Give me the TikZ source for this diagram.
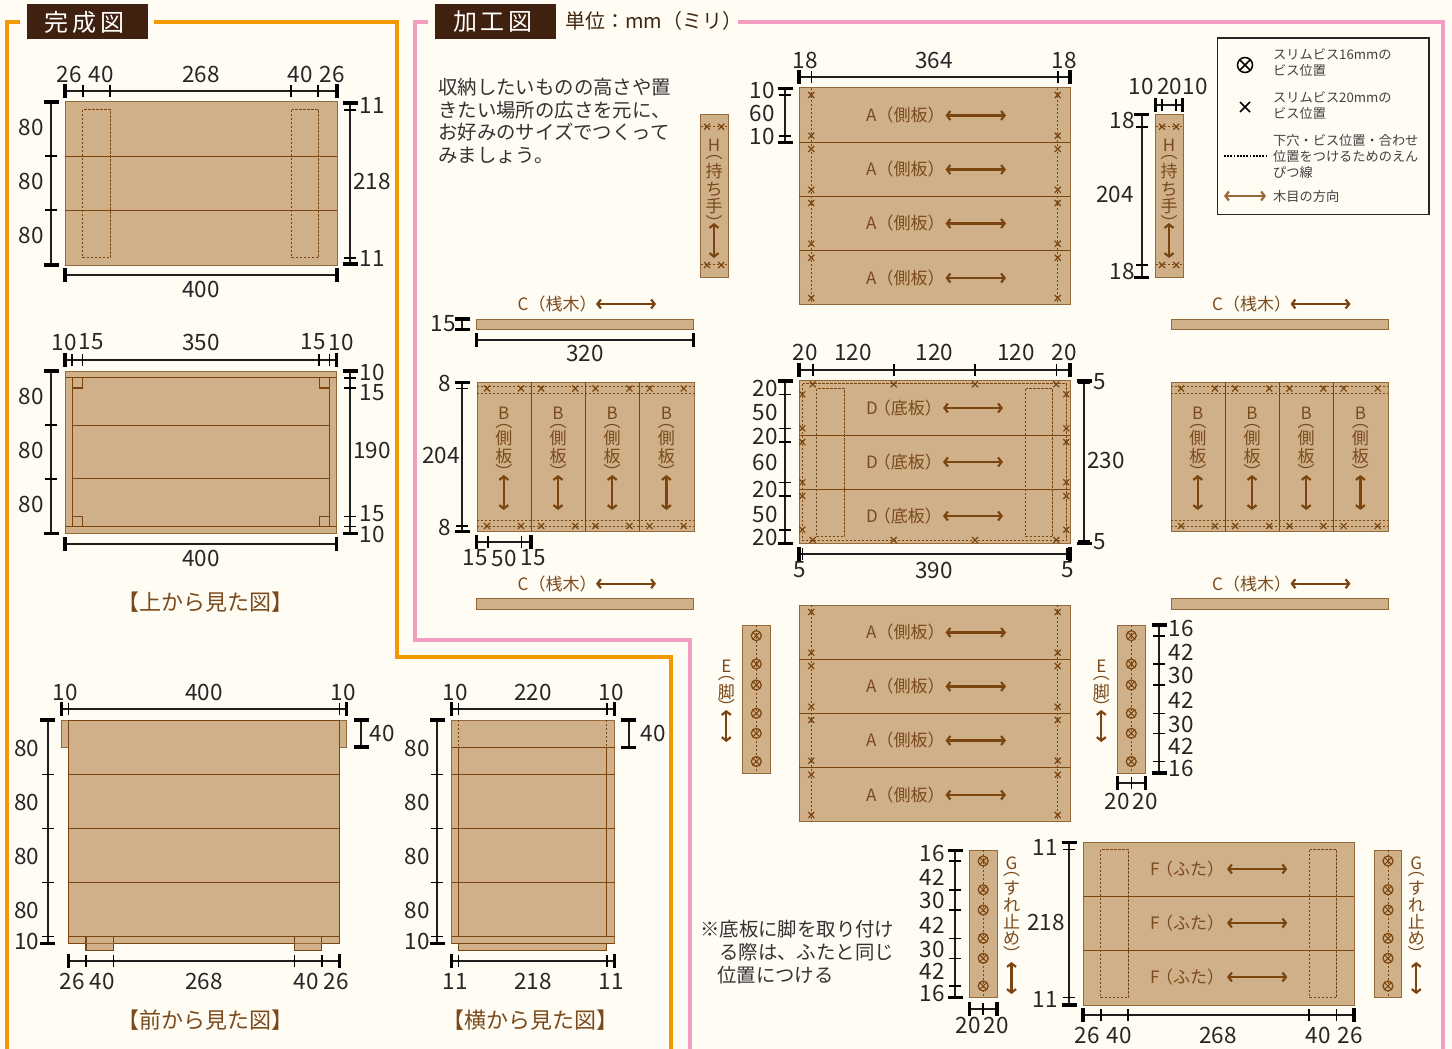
\documentclass[tikz,border=0pt]{standalone}
\usepackage{fontspec}
\setmainfont{Noto Sans CJK JP}
\usetikzlibrary{arrows.meta}

\definecolor{paper}{HTML}{FFFCF4}
\definecolor{wood}{HTML}{CFB088}
\definecolor{woodline}{HTML}{7B4510}
\definecolor{woodedge}{HTML}{96693A}
\definecolor{woodtext}{HTML}{7A4A1C}
\definecolor{framea}{HTML}{F39800}
\definecolor{frameb}{HTML}{F29CC0}
\definecolor{titlebox}{HTML}{40210F}

\tikzset{
  board/.style={fill=wood,draw=woodedge,line width=1pt},
  seam/.style={draw=woodline,line width=1.1pt},
  pencil/.style={draw=woodline,line width=1pt,dash pattern=on 2.2pt off 1.8pt},
  frameline/.style={line width=4pt},
  dimline/.style={draw=black!88,line width=2pt},
  dimend/.style={draw=black,line width=3.2pt},
  dimtick/.style={draw=black,line width=1.6pt},
  dimtext/.style={font=\fontsize{22.5}{23}\selectfont,text=black!85,inner sep=0pt},
  woodlabel/.style={font=\fontsize{17}{18}\selectfont,text=woodtext,inner sep=0pt},
  caption/.style={font=\fontsize{22}{23}\selectfont,text=woodtext,inner sep=0pt},
  bodytext/.style={font=\fontsize{19.4}{22.7}\selectfont,text=black!80,inner sep=0pt,align=left},
  legendtext/.style={font=\fontsize{13.2}{16}\selectfont,text=black!75,inner sep=0pt,align=left,anchor=west},
  titletext/.style={font=\fontsize{24}{26}\selectfont,text=white,inner sep=0pt},
  grain/.style={draw=woodline,line width=2.2pt,{Straight Barb[length=3.5pt,width=9pt]}-{Straight Barb[length=3.5pt,width=9pt]}},
  screw/.style={draw=woodline,line width=1.2pt},
}

% full-width brackets and colon
\newcommand{\zl}{\symbol{"FF08}}
\newcommand{\zr}{\symbol{"FF09}}
\newcommand{\zc}{\symbol{"FF1A}}

% dimension lines: position, start, end, inner ticks
\newcommand{\dimh}[4]{%
  \draw[dimline] (#2,#1) -- (#3,#1);
  \foreach \tx in {#2,#3} \draw[dimend] (\tx,#1-7) -- (\tx,#1+7);
  \foreach \tx in {#4} \draw[dimtick] (\tx,#1-6) -- (\tx,#1+6);
}
\newcommand{\dimv}[4]{%
  \draw[dimline] (#1,#2) -- (#1,#3);
  \foreach \ty in {#2,#3} \draw[dimend] (#1-7.5,\ty) -- (#1+7.5,\ty);
  \foreach \ty in {#4} \draw[dimtick] (#1-6,\ty) -- (#1+6,\ty);
}
\newcommand{\dimlabels}[1]{%
  \foreach \txt/\lx/\ly in {#1} \node[dimtext] at (\lx,\ly) {\txt};
}
\newcommand{\stacklabels}[2]{%
  \foreach \txt/\ly in {#2} \node[woodlabel] at (#1,\ly) {\txt};
}
\newcommand{\crossmark}[3][screw]{%
  \draw[#1] (#2-3,#3-3) -- (#2+3,#3+3) (#2-3,#3+3) -- (#2+3,#3-3);
}
\newcommand{\screwmark}[2]{%
  \draw[screw] (#1,#2) circle [radius=5];
  \draw[screw,line width=1pt] (#1-3.5,#2-3.5) -- (#1+3.5,#2+3.5) (#1-3.5,#2+3.5) -- (#1+3.5,#2-3.5);
}

\begin{document}
\begin{tikzpicture}[x=1pt,y=-1pt]
    \useasboundingbox (0,0) rectangle (1452,1049);
    \fill[paper] (0,0) rectangle (1452,1049);

    % Frames
    \draw[frameline,framea] (7,1049) -- (7,22) -- (20,22);
    \draw[frameline,framea] (154,22) -- (397,22) -- (397,657) -- (671,657) -- (671,1049);
    \draw[frameline,frameb] (690,1049) -- (690,640) -- (415,640) -- (415,22) -- (428,22);
    \draw[frameline,frameb] (738,22) -- (1443,22) -- (1443,1049);

    % Titles
    \fill[titlebox] (27,4) rectangle (148,39);
    \node[titletext] at (85,22) {完\,成\,図};
    \fill[titlebox] (435,4) rectangle (556,39);
    \node[titletext] at (493,22) {加\,工\,図};
    \node[font=\fontsize{20}{22}\selectfont,text=black!25!woodtext!70!black,inner sep=0pt,anchor=west] at (565,21) {単位\zc mm\zl ミリ\zr};

    % Top view, finished
    \draw[board] (65,102) rectangle (337,265);
    \draw[seam] (65,156.5) -- (337,156.5) (65,210.5) -- (337,210.5);
    \draw[pencil] (82.5,109.5) rectangle (110.5,257.5);
    \draw[pencil] (291.5,109.5) rectangle (318.5,257.5);
    \dimh{91}{65}{337}{83,110,291,318}
    \dimlabels{26/69/74,40/101/74,268/201/74,40/300/74,26/332/74}
    \dimv{51}{102}{265}{156,210}
    \dimlabels{80/31/127,80/31/181,80/31/235}
    \dimv{350}{103}{264}{110,258}
    \dimlabels{11/372/105,218/372/181,11/372/258}
    \dimh{275}{65}{337}{}
    \dimlabels{400/201/289}

    % Top view, open
    \draw[board] (65,371) rectangle (336.5,533.5);
    \draw[seam] (65,377.5) -- (336.5,377.5) (65,526.5) -- (336.5,526.5);
    \draw[seam] (72.5,377.5) -- (72.5,526.5) (329.5,377.5) -- (329.5,526.5);
    \draw[seam] (72.5,425.5) -- (329.5,425.5) (72.5,478.5) -- (329.5,478.5);
    \draw[seam] (72.5,388) -| (82.5,377.5) (72.5,516.5) -| (82.5,526.5);
    \draw[seam] (329.5,388) -| (319.5,377.5) (329.5,516.5) -| (319.5,526.5);
    \dimh{360}{65}{336.5}{72,82.5,319,329.5}
    \dimlabels{10/64/342,15/91/342,350/201/342,15/313/342,10/341/342}
    \dimv{51}{371}{533.5}{425,479}
    \dimlabels{80/31/396,80/31/450,80/31/504}
    \dimv{350}{371}{533.5}{378,388,516.5,526.5}
    \dimlabels{10/372/372,15/372/393,190/372/450,15/372/514,10/372/534}
    \dimh{544}{65}{336.5}{}
    \dimlabels{400/201/558}
    \node[caption] at (205,602) {【上から見た図】};

    % Front view
    \draw[board] (61.5,720) rectangle (68.5,747);
    \draw[board] (339.5,720) rectangle (346.5,747);
    \draw[board,draw=woodline] (68.5,720) rectangle (339.5,943.5);
    \draw[seam] (68.5,774.5) -- (339.5,774.5) (68.5,828.5) -- (339.5,828.5);
    \draw[seam] (68.5,882.5) -- (339.5,882.5) (68.5,936.5) -- (339.5,936.5);
    \draw[seam] (86,936.5) |- (113.5,950.5) -- (113.5,936.5);
    \draw[seam] (294.5,936.5) |- (321.5,950.5) -- (321.5,936.5);
    \fill[wood] (86.5,944) rectangle (113,950);
    \fill[wood] (295,944) rectangle (321,950);
    \draw[seam,woodedge] (86,943.5) -- (113.5,943.5) (294.5,943.5) -- (321.5,943.5);
    \dimh{709}{61.5}{346.5}{68.5,339.5}
    \dimlabels{10/65/692,400/204/692,10/343/692}
    \dimv{47.5}{720}{943.5}{774.3,828.3,882.3,936.3}
    \dimlabels{80/27/748,80/27/802,80/27/856,80/27/910,10/27/941}
    \dimv{361}{720}{747}{}
    \dimlabels{40/382/733}
    \dimh{961}{68.5}{339.5}{86,113.3,294.3,321.7}
    \dimlabels{26/72/981,40/102/981,268/204/981,40/306/981,26/336/981}
    \node[caption] at (205,1020) {【前から見た図】};

    % Side view
    \draw[board] (451.5,720) rectangle (614.5,943.5);
    \draw[seam] (458.5,747.5) -- (458.5,936.5) (606.5,747.5) -- (606.5,936.5);
    \draw[pencil] (458.5,720) -- (458.5,747.5) (606.5,720) -- (606.5,747.5);
    \foreach \sy in {747.5,774.5,828.5,882.5,936.5,943.5}
        \draw[seam] (451.5,\sy) -- (614.5,\sy);
    \draw[board,draw=woodline] (458.5,943.5) rectangle (606.5,950.5);
    \dimh{709}{451.7}{614.3}{458.3,607}
    \dimlabels{10/455/692,220/533/692,10/611/692}
    \dimv{437.3}{720}{943.3}{774.3,828.3,882.3,936.3}
    \dimlabels{80/417/748,80/417/802,80/417/856,80/417/910,10/417/941}
    \dimv{628.7}{720}{747.3}{}
    \dimlabels{40/653/733}
    \dimh{961}{451.7}{614.3}{458.3,607}
    \dimlabels{11/455/981,218/533/981,11/611/981}
    \node[caption] at (530,1020) {【横から見た図】};

    % Intro text
    \node[bodytext,anchor=west] at (438,121) {収納したいものの高さや置\\きたい場所の広さを元に、\\お好みのサイズでつくって\\みましょう。};

    % H, handle
    \foreach \hoff in {0,455} {
        \begin{scope}[shift={(\hoff,0)}]
            \draw[board] (700.5,114.5) rectangle (728,277.5);
            \draw[pencil] (700.5,126.5) -- (728,126.5) (700.5,264.5) -- (728,264.5);
            \foreach \mx in {707,721.2} {
                \crossmark{\mx}{126.7}
                \crossmark{\mx}{265}
            }
            \stacklabels{714}{H/145,︵/158,持/171.5,ち/189,手/206,︶/222.5}
            \draw[grain] (714,223) -- (714,258);
        \end{scope}
    }
    \dimh{105}{1155.3}{1182.7}{1162,1176}
    \dimlabels{10/1141/86,20/1169.5/86,10/1195/86}
    \dimv{1141.7}{114.3}{277.3}{126.7,265}
    \dimlabels{18/1122/120,204/1115/194,18/1122/271}

    % Legend
    \draw[draw=black!85,line width=1.6pt,fill=paper] (1217.5,38) rectangle (1429,214.3);
    \draw[black,line width=1.5pt] (1245,65) circle [radius=7.5];
    \draw[black,line width=1.5pt] (1240,60) -- (1250,70) (1240,70) -- (1250,60);
    \draw[black,line width=1.5pt] (1240,102) -- (1250,112) (1240,112) -- (1250,102);
    \draw[black,line width=1.2pt,dash pattern=on 1.8pt off 1.4pt] (1224,156) -- (1266,156);
    \draw[grain,draw=woodedge] (1224,196) -- (1266,196);
    \node[legendtext] at (1273,63) {スリムビス16mmの\\ビス位置};
    \node[legendtext] at (1273,106) {スリムビス20mmの\\ビス位置};
    \node[legendtext] at (1273,156) {下穴・ビス位置・合わせ\\位置をつけるためのえん\\ぴつ線};
    \node[legendtext] at (1273,196) {木目の方向};

    % A, side boards (two sets)
    \foreach \aoff in {0,517} {
        \begin{scope}[shift={(0,\aoff)}]
            \draw[board] (799,88) rectangle (1070,304.8);
            \draw[seam] (799,142.5) -- (1070,142.5) (799,196.5) -- (1070,196.5) (799,250.5) -- (1070,250.5);
            \draw[pencil] (811.5,88) -- (811.5,304.8) (1057.5,88) -- (1057.5,304.8);
            \foreach \ay in {95,135.7,149,189.7,203,243.7,257.7,298} {
                \crossmark{811.3}{\ay}
                \crossmark{1057.7}{\ay}
            }
            \foreach \ay in {115.5,169.5,223.5,278} {
                \node[woodlabel,anchor=west] at (866,\ay) {A\zl 側板\zr};
                \draw[grain] (945.5,\ay) -- (1006,\ay);
            }
        \end{scope}
    }
    \dimh{77}{799}{1070}{811.3,1057.7}
    \dimlabels{18/805/60,364/934/60,18/1064/60}
    \dimv{785}{88.3}{142.3}{95,136}
    \dimlabels{10/762/90,60/762/113,10/762/136}

    % C, battens
    \foreach \cxoff in {0,694.5} {
        \begin{scope}[shift={(\cxoff,0)}]
            \foreach \cy in {0,279.7} {
                \draw[board] (476.7,319+\cy) rectangle (693.7,329.5+\cy);
                \node[woodlabel,anchor=west] at (517.5,304+\cy) {C\zl 桟木\zr};
                \draw[grain] (596,304+\cy) -- (656,304+\cy);
            }
        \end{scope}
    }
    \dimv{462.3}{319}{329.5}{}
    \dimlabels{15/443/324}
    \dimh{340}{476.7}{693.7}{}
    \dimlabels{320/585/353}

    % B, side boards (two sets)
    \foreach \boff in {0,694} {
        \begin{scope}[shift={(\boff,0)}]
            \draw[board] (477,382.3) rectangle (694,531.3);
            \draw[seam] (531.5,382.3) -- (531.5,531.3) (585.5,382.3) -- (585.5,531.3) (639.5,382.3) -- (639.5,531.3);
            \draw[pencil] (477,386.5) -- (694,386.5) (477,393.5) -- (694,393.5);
            \draw[pencil] (477,520.5) -- (694,520.5) (477,526.5) -- (694,526.5);
            \foreach \bx in {0,54.2,108.4,162.6} {
                \foreach \by in {388.5,526} {
                    \crossmark{487+\bx}{\by}
                    \crossmark{521+\bx}{\by}
                }
                \stacklabels{503.8+\bx}{B/413.5,︵/427,側/438.5,板/456,︶/471.5}
                \draw[grain] (503.8+\bx,475) -- (503.8+\bx,510);
            }
        \end{scope}
    }
    \dimv{462.3}{382.3}{531.3}{388.5,526}
    \dimlabels{8/445/383,204/441/455,8/445/527}
    \dimh{541.7}{476.7}{531}{487.7,521.3}
    \dimlabels{15/475/558,50/504/558,15/533/558}

    % D, bottom boards
    \draw[board] (799,380.7) rectangle (1070,543.3);
    \draw[seam] (799,435.5) -- (1070,435.5) (799,489.5) -- (1070,489.5);
    \draw[pencil] (802.5,383.5) rectangle (1066.5,540.5);
    \draw[pencil] (816.5,388.5) rectangle (844.5,536.5);
    \draw[pencil] (1025.5,388.5) rectangle (1052.5,536.5);
    \foreach \dx in {812.7,893.7,975,1056.3} {
        \crossmark{\dx}{384.3}
        \crossmark{\dx}{540}
    }
    \foreach \dy in {394.3,428.3,442,482.3,496,529.7} {
        \crossmark{802.3}{\dy}
        \crossmark{1066.3}{\dy}
    }
    \foreach \dy in {408,462,516} {
        \node[woodlabel,anchor=west] at (866,\dy) {D\hspace{-4pt}\zl 底板\zr};
        \draw[grain] (943,\dy) -- (1003,\dy);
    }
    \dimh{370}{799}{1070}{812.7,893.7,975,1056.3}
    \dimlabels{20/805/352,120/853/352,120/934.5/352,120/1016/352,20/1064/352}
    \dimv{785}{381}{543.3}{394.3,428.3,442,482.3,496,529.7}
    \dimlabels{20/765/388,50/765/412,20/765/436,60/765/462.5,20/765/489,50/765/514,20/765/537}
    \dimv{1084.3}{381}{543.3}{383.3,541}
    \dimlabels{5/1100/382,230/1106/460,5/1100/542}
    \dimh{554}{799}{1070}{802.5,1066.7}
    \dimlabels{5/800/570,390/934/570,5/1068/570}

    % E, legs
    \foreach \eoff in {0,375} {
        \begin{scope}[shift={(\eoff,0)}]
            \draw[board] (742.3,625) rectangle (770.3,773);
            \draw[pencil] (756.5,625) -- (756.5,773);
            \foreach \ey in {635.7,664,685,713.3,733.3,761.5} {
                \screwmark{756.3}{\ey}
            }
            \stacklabels{726.3}{E/666,︵/678.5,脚/692,︶/706.5}
            \draw[grain] (726.3,710) -- (726.3,742);
        \end{scope}
    }
    \dimv{1159}{625}{773}{635.7,664,685,713.3,733.3,761.5}
    \dimlabels{16/1181/628,42/1181/652,30/1181/675,42/1181/700,30/1181/724,42/1181/746,16/1181/768}
    \dimh{783}{1117.3}{1145.3}{1131.3}
    \dimlabels{20/1117/801,20/1145/801}

    % G, stops
    \foreach \goff in {0,404.8} {
        \begin{scope}[shift={(\goff,0)}]
            \draw[board] (969.4,850) rectangle (997,997.5);
            \draw[pencil] (983.5,850) -- (983.5,997.5);
            \foreach \gy in {861,889.7,910,938.3,958.3,986} {
                \screwmark{983.2}{\gy}
            }
            \stacklabels{1011.5}{G/863,︵/875,す/888.5,れ/905,止/921.5,め/938,︶/953.5}
            \draw[grain] (1011.5,962) -- (1011.5,994);
        \end{scope}
    }
    \dimv{955.3}{850.3}{997.7}{861,889.7,910,938.3,958.3,986}
    \dimlabels{16/932/853,42/932/877,30/932/900,42/932/925,30/932/949,42/932/971,16/932/993}
    \dimh{1009}{969.4}{997}{983.2}
    \dimlabels{20/968/1025,20/996/1025}

    % F, lid
    \draw[board] (1083,842.3) rectangle (1354,1005);
    \draw[seam] (1083,896.5) -- (1354,896.5) (1083,950.5) -- (1354,950.5);
    \draw[pencil] (1100.5,849.5) rectangle (1128.5,997.5);
    \draw[pencil] (1309.5,849.5) rectangle (1336.5,997.5);
    \foreach \fy in {869,923,977} {
        \node[woodlabel,anchor=west] at (1150,\fy) {F\hspace{-3.5pt}\zl ふた\zr};
        \draw[grain] (1227,\fy) -- (1287.3,\fy);
    }
    \dimv{1069}{842.3}{1005}{849.3,997.3}
    \dimlabels{11/1045/847,218/1046/922,11/1045/999}
    \dimh{1015}{1083}{1354}{1100.7,1128.2,1309,1336.6}
    \dimlabels{26/1087/1035,40/1119/1035,268/1218/1035,40/1318/1035,26/1350/1035}

    % Note
    \node[bodytext,anchor=west] at (700,929) {※底板に脚を取り付け};
    \node[bodytext,anchor=west] at (719,952) {る際は、ふたと同じ};
    \node[bodytext,anchor=west] at (717,975) {位置につける};
\end{tikzpicture}
\end{document}
